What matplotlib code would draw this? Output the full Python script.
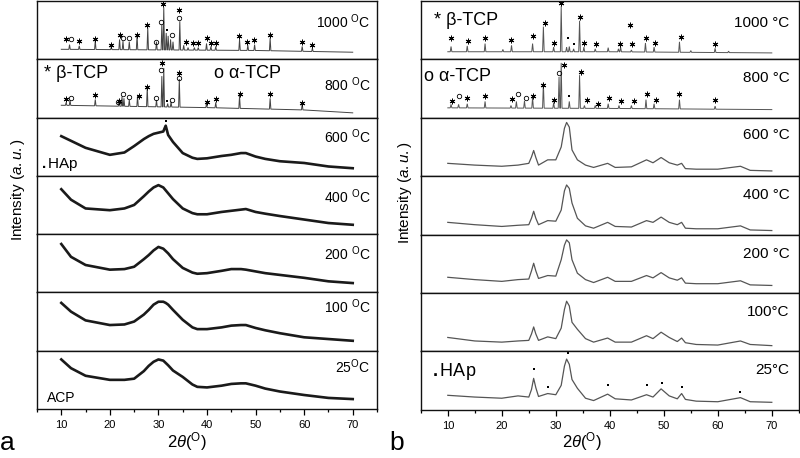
import numpy as np
import matplotlib
matplotlib.use("Agg")
import matplotlib.pyplot as plt
from matplotlib.ticker import MultipleLocator

plt.rcParams['font.family'] = ['Liberation Sans', 'DejaVu Sans']
plt.rcParams['mathtext.fontset'] = 'custom'
plt.rcParams['mathtext.rm'] = 'Liberation Sans'
plt.rcParams['mathtext.it'] = 'Liberation Sans:italic'
plt.rcParams['mathtext.bf'] = 'Liberation Sans:bold'

# ---------------- data ----------------
temps_a = ["1000", "800", "600", "400", "200", "100", "25"]

# Panel a: amorphous patterns (fraction of sub-panel height)
xa = [10, 12, 15, 20, 23, 25, 27, 28, 29, 30, 31, 31.5, 32, 33, 35, 37, 38, 40, 43, 45, 47, 48, 50, 52, 55, 60, 65, 70]
a_600 = [0.68, 0.60, 0.48, 0.36, 0.40, 0.51, 0.63, 0.68, 0.72, 0.74, 0.76, 0.86, 0.70, 0.58, 0.39, 0.31, 0.29, 0.30, 0.34, 0.36, 0.39, 0.39, 0.33, 0.29, 0.25, 0.22, 0.16, 0.13]
a_400 = [0.77, 0.59, 0.44, 0.41, 0.44, 0.50, 0.65, 0.73, 0.80, 0.84, 0.80, 0.75, 0.70, 0.60, 0.44, 0.36, 0.34, 0.34, 0.38, 0.40, 0.42, 0.43, 0.38, 0.35, 0.31, 0.25, 0.19, 0.16]
a_200 = [0.83, 0.61, 0.47, 0.39, 0.40, 0.44, 0.57, 0.64, 0.72, 0.78, 0.75, 0.71, 0.67, 0.57, 0.42, 0.34, 0.32, 0.33, 0.37, 0.40, 0.40, 0.39, 0.36, 0.33, 0.30, 0.25, 0.19, 0.16]
a_100 = [0.82, 0.67, 0.52, 0.44, 0.45, 0.50, 0.62, 0.70, 0.79, 0.84, 0.84, 0.82, 0.79, 0.70, 0.53, 0.40, 0.37, 0.37, 0.40, 0.43, 0.44, 0.44, 0.39, 0.35, 0.30, 0.23, 0.20, 0.17]
a_25 = [0.85, 0.70, 0.57, 0.50, 0.50, 0.52, 0.65, 0.74, 0.81, 0.85, 0.83, 0.79, 0.75, 0.66, 0.55, 0.42, 0.38, 0.37, 0.40, 0.43, 0.44, 0.44, 0.40, 0.35, 0.30, 0.24, 0.19, 0.17]

# Panel a: crystalline patterns (peak positions / heights, baseline)
a1000_px = [11.7, 13.7, 17.0, 20.3, 22.0, 22.7, 24.0, 25.6, 27.8, 29.6, 30.7, 31.1, 31.6, 32.0, 32.5, 33.0, 34.4, 35.2, 36.1, 37.4, 38.2, 39.9, 40.8, 41.8, 46.7, 48.4, 49.8, 53.0, 59.6, 61.7]
a1000_py = [0.25, 0.23, 0.32, 0.21, 0.34, 0.31, 0.30, 0.42, 0.54, 0.30, 0.59, 0.89, 0.45, 0.40, 0.34, 0.30, 0.65, 0.24, 0.20, 0.20, 0.20, 0.27, 0.22, 0.22, 0.34, 0.24, 0.25, 0.36, 0.22, 0.19]
a1000_bx = [10, 30, 50, 70]
a1000_by = [0.17, 0.16, 0.15, 0.12]
a1000_star_x = [10.9, 13.7, 17.0, 20.3, 22.1, 25.6, 27.7, 31.0, 34.3, 35.6, 37.2, 38.2, 39.9, 40.8, 41.8, 46.6, 48.3, 49.7, 53.0, 59.5, 61.6]
a1000_star_y = [0.34, 0.31, 0.35, 0.24, 0.42, 0.41, 0.58, 0.95, 0.85, 0.30, 0.27, 0.27, 0.36, 0.28, 0.28, 0.40, 0.30, 0.33, 0.41, 0.29, 0.25]
a1000_circ_x = [11.9, 22.8, 24.0, 29.5, 30.6, 32.8, 34.3]
a1000_circ_y = [0.34, 0.37, 0.37, 0.30, 0.63, 0.42, 0.71]
a1000_dot_x = [31.8]
a1000_dot_y = [0.50]

a800_px = [11.0, 11.8, 17.0, 21.9, 22.5, 22.9, 24.0, 25.7, 27.7, 29.6, 30.7, 31.1, 31.9, 32.6, 34.3, 39.9, 41.8, 46.7, 53.0, 59.6]
a800_py = [0.26, 0.30, 0.31, 0.30, 0.36, 0.33, 0.30, 0.37, 0.52, 0.30, 0.71, 0.85, 0.24, 0.27, 0.66, 0.24, 0.26, 0.37, 0.33, 0.24]
a800_bx = [10, 40, 60, 70]
a800_by = [0.21, 0.17, 0.13, 0.08]
a800_star_x = [10.9, 17.0, 21.9, 25.9, 27.7, 30.8, 34.3, 39.9, 41.8, 46.8, 53.0, 59.5]
a800_star_y = [0.32, 0.38, 0.28, 0.37, 0.53, 0.93, 0.77, 0.26, 0.32, 0.41, 0.40, 0.25]
a800_circ_x = [11.9, 21.6, 22.8, 24.0, 29.5, 30.6, 34.3, 32.8]
a800_circ_y = [0.34, 0.26, 0.41, 0.36, 0.34, 0.82, 0.67, 0.30]
a800_dot_x = [31.8]
a800_dot_y = [0.28]

a600_dot_x = [31.5]
a600_dot_y = [0.94]

# Panel b: nanocrystalline HAp patterns
xb = [10, 15, 20, 23, 25, 25.5, 25.9, 26.3, 26.8, 28.5, 30, 31, 31.6, 32, 32.5, 33, 34, 35.5, 37, 39.6, 41, 44, 46.8, 48, 49.5, 51, 52.5, 53.3, 54, 56, 60, 64.2, 66, 70]
b_600 = [0.22, 0.19, 0.17, 0.19, 0.22, 0.33, 0.44, 0.32, 0.19, 0.28, 0.28, 0.50, 0.82, 0.92, 0.84, 0.45, 0.28, 0.19, 0.15, 0.22, 0.15, 0.16, 0.28, 0.23, 0.32, 0.23, 0.19, 0.22, 0.13, 0.12, 0.12, 0.17, 0.10, 0.09]
b_400 = [0.21, 0.17, 0.14, 0.16, 0.17, 0.28, 0.40, 0.28, 0.17, 0.24, 0.23, 0.42, 0.75, 0.85, 0.79, 0.54, 0.28, 0.15, 0.11, 0.21, 0.14, 0.13, 0.24, 0.21, 0.30, 0.21, 0.17, 0.21, 0.11, 0.10, 0.10, 0.15, 0.08, 0.07]
b_200 = [0.27, 0.23, 0.20, 0.23, 0.24, 0.38, 0.51, 0.38, 0.25, 0.30, 0.29, 0.57, 0.82, 0.91, 0.86, 0.57, 0.34, 0.23, 0.18, 0.27, 0.20, 0.20, 0.30, 0.26, 0.35, 0.26, 0.22, 0.26, 0.17, 0.16, 0.16, 0.21, 0.14, 0.13]
b_100 = [0.24, 0.18, 0.16, 0.18, 0.19, 0.30, 0.42, 0.30, 0.19, 0.25, 0.22, 0.40, 0.72, 0.86, 0.78, 0.50, 0.38, 0.22, 0.16, 0.23, 0.16, 0.16, 0.27, 0.22, 0.33, 0.24, 0.17, 0.23, 0.15, 0.12, 0.11, 0.18, 0.12, 0.10]
b_25 = [0.25, 0.22, 0.20, 0.24, 0.22, 0.35, 0.54, 0.38, 0.23, 0.28, 0.26, 0.42, 0.75, 0.87, 0.78, 0.52, 0.37, 0.20, 0.16, 0.27, 0.19, 0.17, 0.26, 0.22, 0.36, 0.24, 0.19, 0.28, 0.18, 0.15, 0.14, 0.21, 0.14, 0.13]
b25_dot_x = [25.9, 28.5, 32.2, 39.6, 46.8, 49.6, 53.3, 64.2]
b25_dot_y = [0.70, 0.39, 0.97, 0.43, 0.42, 0.46, 0.39, 0.31]

# Panel b: crystalline patterns
b1000_px = [10.6, 13.6, 16.9, 20.2, 21.8, 25.7, 27.7, 29.6, 31.0, 32.0, 32.5, 33.3, 34.4, 35.2, 37.3, 39.7, 41.6, 42.0, 44.0, 46.6, 48.2, 52.9, 55.0, 59.5, 62.0]
b1000_py = [0.22, 0.23, 0.27, 0.17, 0.24, 0.27, 0.56, 0.21, 0.91, 0.21, 0.22, 0.18, 0.66, 0.21, 0.18, 0.20, 0.18, 0.21, 0.16, 0.28, 0.21, 0.30, 0.15, 0.19, 0.14]
b1000_bx = [10, 40, 70]
b1000_by = [0.13, 0.13, 0.11]
b1000_star_x = [10.6, 13.7, 16.9, 21.7, 25.7, 28.0, 29.6, 31.0, 34.4, 35.3, 37.5, 41.8, 43.8, 44.1, 46.7, 48.3, 53.2, 59.5]
b1000_star_y = [0.36, 0.32, 0.36, 0.33, 0.40, 0.62, 0.28, 0.97, 0.73, 0.28, 0.26, 0.26, 0.59, 0.26, 0.36, 0.28, 0.39, 0.26]
b1000_dot_x = [32.3, 33.3]
b1000_dot_y = [0.36, 0.27]

b800_px = [10.6, 12.0, 13.6, 16.9, 21.7, 22.7, 24.2, 25.7, 27.7, 29.6, 30.6, 31.0, 32.5, 34.4, 35.3, 37.3, 39.7, 41.7, 44.0, 46.7, 48.2, 52.9, 59.5]
b800_py = [0.23, 0.23, 0.24, 0.28, 0.21, 0.28, 0.29, 0.35, 0.60, 0.26, 0.70, 0.94, 0.28, 0.73, 0.21, 0.21, 0.24, 0.21, 0.21, 0.31, 0.24, 0.31, 0.20]
b800_bx = [10, 40, 70]
b800_by = [0.17, 0.16, 0.14]
b800_star_x = [10.7, 13.6, 16.8, 21.9, 25.7, 27.6, 29.6, 31.5, 34.6, 35.8, 37.9, 39.8, 42.1, 44.4, 46.9, 48.5, 52.9, 59.5]
b800_star_y = [0.28, 0.34, 0.37, 0.32, 0.38, 0.56, 0.31, 0.90, 0.79, 0.31, 0.24, 0.33, 0.28, 0.29, 0.40, 0.31, 0.41, 0.31]
b800_circ_x = [12.0, 23.0, 24.4, 30.6]
b800_circ_y = [0.37, 0.41, 0.34, 0.76]
b800_dot_x = [32.5]
b800_dot_y = [0.37]

xticks = [10, 20, 30, 40, 50, 60, 70]

# ---------------- drawing ----------------
fig = plt.figure(figsize=(8.0, 4.58), dpi=100)

def make_axes(left, width, bottom, top, n=7):
    h = (top - bottom) / n
    axs = []
    for i in range(n):
        ax = fig.add_axes([left, top - (i + 1) * h, width, h])
        ax.set_xlim(5, 75)
        ax.set_ylim(0, 1)
        ax.set_yticks([])
        for s in ax.spines.values():
            s.set_linewidth(1.0)
            s.set_color('#111111')
        if i < n - 1:
            ax.set_xticks([])
        else:
            ax.set_xticks(xticks)
            ax.xaxis.set_minor_locator(MultipleLocator(5))
            ax.tick_params(axis='x', which='major', length=4, width=0.9, direction='out', labelsize=8, pad=4)
            ax.tick_params(axis='x', which='minor', length=2.5, width=0.9, direction='out')
        axs.append(ax)
    return axs

def stick_trace(ax, px, py, bx, by, hw=0.15, color='#444444', lw=0.7):
    xs = [bx[0]]
    ys = [by[0]]
    for x, h in sorted(zip(px, py)):
        b = float(np.interp(x, bx, by))
        xs += [x - hw, x, x + hw]
        ys += [b, h, b]
    xs.append(bx[-1])
    ys.append(by[-1])
    ax.plot(xs, ys, color=color, lw=lw, solid_joinstyle='miter')

def stars(ax, x, y, ms=4.0):
    ax.plot(x, y, ls='none', marker=(6, 2, 0), ms=ms, mew=0.7, color='black')

def circles(ax, x, y, ms=3.2):
    ax.plot(x, y, ls='none', marker='o', ms=ms, mfc='none', mew=0.6, color='black')

def dots(ax, x, y, ms=2.1):
    ax.plot(x, y, ls='none', marker='s', ms=ms, mew=0, color='black')

# Panel a
axa = make_axes(0.04625, 0.425, 0.107, 0.998)
stick_trace(axa[0], a1000_px, a1000_py, a1000_bx, a1000_by)
stars(axa[0], a1000_star_x, a1000_star_y)
circles(axa[0], a1000_circ_x, a1000_circ_y)
dots(axa[0], a1000_dot_x, a1000_dot_y)
stick_trace(axa[1], a800_px, a800_py, a800_bx, a800_by)
stars(axa[1], a800_star_x, a800_star_y)
circles(axa[1], a800_circ_x, a800_circ_y)
dots(axa[1], a800_dot_x, a800_dot_y)
for ax, ys in zip(axa[2:], [a_600, a_400, a_200, a_100, a_25]):
    ax.plot(xa, ys, color='#1a1a1a', lw=1.9)
dots(axa[2], a600_dot_x, a600_dot_y, ms=2.0)

sup = r"$^{\mathrm{O}}$"
labels_a = ["1000 " + sup + "C", "800 " + sup + "C", "600 " + sup + "C", "400 " + sup + "C",
            "200 " + sup + "C", "100 " + sup + "C", "25" + sup + "C"]
ly_a = [0.64, 0.57, 0.67, 0.64, 0.67, 0.75, 0.72]
for ax, t, yy in zip(axa, labels_a, ly_a):
    ax.text(0.98, yy, t, transform=ax.transAxes, ha='right', va='center', fontsize=10)
axa[1].text(0.022, 0.76, "* \u03b2-TCP", transform=axa[1].transAxes, ha='left', va='center', fontsize=13)
axa[1].text(0.52, 0.76, "o \u03b1-TCP", transform=axa[1].transAxes, ha='left', va='center', fontsize=13)
axa[2].text(0.012, 0.19, r"$\mathbf{.}$HAp", transform=axa[2].transAxes, ha='left', va='center', fontsize=11)
axa[6].text(0.03, 0.19, "ACP", transform=axa[6].transAxes, ha='left', va='center', fontsize=10)

# Panel b
axb = make_axes(0.526, 0.4725, 0.105, 0.998)
stick_trace(axb[0], b1000_px, b1000_py, b1000_bx, b1000_by, color='#555555')
stars(axb[0], b1000_star_x, b1000_star_y)
dots(axb[0], b1000_dot_x, b1000_dot_y)
stick_trace(axb[1], b800_px, b800_py, b800_bx, b800_by, color='#555555')
stars(axb[1], b800_star_x, b800_star_y)
circles(axb[1], b800_circ_x, b800_circ_y)
dots(axb[1], b800_dot_x, b800_dot_y)
for ax, ys in zip(axb[2:], [b_600, b_400, b_200, b_100, b_25]):
    ax.plot(xb, ys, color='#555555', lw=0.9)
dots(axb[6], b25_dot_x, b25_dot_y)

labels_b = ["1000 \u00b0C", "800 \u00b0C", "600 \u00b0C", "400 \u00b0C", "200 \u00b0C", "100\u00b0C", "25\u00b0C"]
ly_b = [0.63, 0.68, 0.71, 0.68, 0.67, 0.67, 0.69]
for ax, t, yy in zip(axb, labels_b, ly_b):
    ax.text(0.976, yy, t, transform=ax.transAxes, ha='right', va='center', fontsize=11)
axb[0].text(0.034, 0.67, "* \u03b2-TCP", transform=axb[0].transAxes, ha='left', va='center', fontsize=13)
axb[1].text(0.008, 0.70, "o \u03b1-TCP", transform=axb[1].transAxes, ha='left', va='center', fontsize=13)
axb[6].text(0.03, 0.66, r"$\mathbf{.}$HAp", transform=axb[6].transAxes, ha='left', va='center', fontsize=13)

# axis labels
fig.text(0.0225, 0.585, r"Intensity ($\it{a.u.}$)", rotation=90, ha='center', va='center', fontsize=11)
fig.text(0.506, 0.579, r"Intensity ($\it{a.u.}$)", rotation=90, ha='center', va='center', fontsize=11)
fig.text(0.234, 0.035, r"2$\it{\theta}$($^{\mathrm{O}}$)", ha='center', va='center', fontsize=12)
fig.text(0.727, 0.035, r"2$\it{\theta}$($^{\mathrm{O}}$)", ha='center', va='center', fontsize=12)
fig.text(0.0, 0.006, "a", ha='left', va='bottom', fontsize=19)
fig.text(0.487, 0.006, "b", ha='left', va='bottom', fontsize=19)

fig.savefig("out.png", dpi=100)
